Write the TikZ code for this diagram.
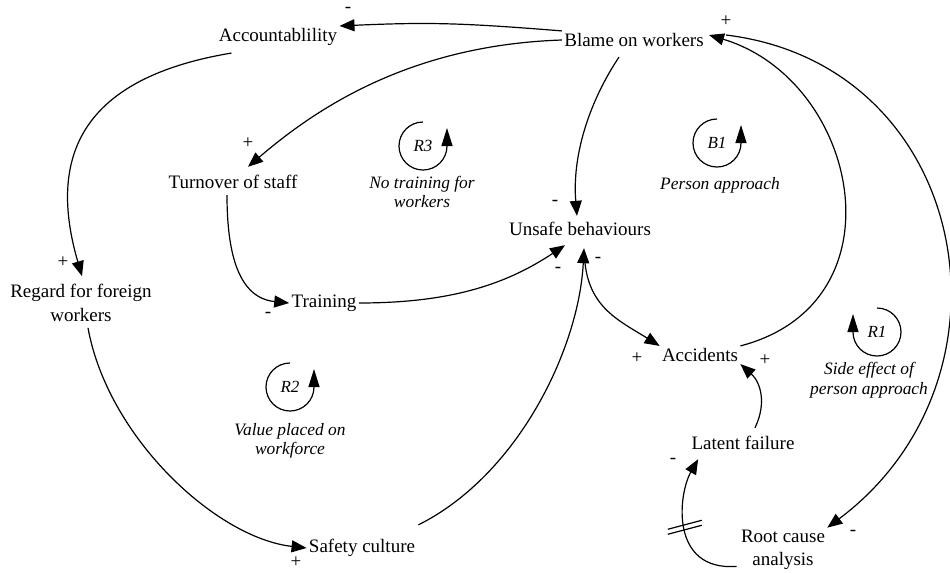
\documentclass[tikz,border=0pt]{standalone}
\usepackage{fontspec}
\setmainfont{Liberation Serif}
\usetikzlibrary{arrows.meta,calc}

\tikzset{
  var/.style={inner sep=1pt, align=center, font=\fontsize{9.5}{11.7}\selectfont},
  pol/.style={inner sep=0pt, font=\fontsize{9.5}{11}\selectfont},
  link/.style={line width=.6pt, -{Triangle[length=7.5pt,width=6pt]}},
  loopid/.style={inner sep=0pt, font=\fontsize{8.5}{10}\selectfont\itshape},
  looptxt/.style={inner sep=0pt, align=center, font=\fontsize{8.7}{9.8}\selectfont\itshape},
  looparc/.style={line width=.6pt, -{Triangle[length=9pt,width=5.5pt]}},
}

\begin{document}
\begin{tikzpicture}[x=0.5pt, y=-0.5pt]
  \useasboundingbox (0,0) rectangle (950,574);
  % variables
  \node[var] (acc) at (278,37) {Accountablility};
  \node[var] (blame) at (634,40) {Blame on workers};
  \node[var] (turn) at (233,182) {Turnover of staff};
  \node[var] (unsafe) at (580,229) {Unsafe behaviours};
  \node[var] (regard) at (81,303) {Regard for foreign\\workers};
  \node[var] (train) at (324,303) {Training};
  \node[var] (accid) at (700,355) {Accidents};
  \node[var] (latent) at (743,443) {Latent failure};
  \node[var] (root) at (783,550) {Root cause\\analysis};
  \node[var] (safety) at (362,548) {Safety culture};

  % loop markers
  \node[loopid] (r3) at (423,146) {R3};
  \node[loopid] (b1) at (717,143) {B1};
  \node[loopid] (r2) at (290,387) {R2};
  \node[loopid] (r1) at (877,332) {R1};
  \node[looptxt] (r3txt) at (422,192) {No training for\\workers};
  \node[looptxt] (b1txt) at (720,185) {Person approach};
  \node[looptxt] (r2txt) at (290,441) {Value placed on\\workforce};
  \node[looptxt] (r1txt) at (869,380) {Side effect of\\person approach};
  \draw[looparc] ([yshift=12pt]r3.center) arc[start angle=90, end angle=360, radius=12pt] -- ++(0pt,9pt);
  \draw[looparc] ([yshift=12pt]b1.center) arc[start angle=90, end angle=360, radius=12pt] -- ++(0pt,9pt);
  \draw[looparc] ([yshift=12pt]r2.center) arc[start angle=90, end angle=360, radius=12pt] -- ++(0pt,9pt);
  \draw[looparc] ([yshift=12pt]r1.center) arc[start angle=90, end angle=-180, radius=12pt] -- ++(0pt,9pt);

  % links
  \draw[link] (blame.north west) .. controls +(-100,-8) and +(90,-4) .. (acc.north east);
  \draw[link] (blame.west) .. controls +(-150,5) and +(70,-60) .. ($(turn.north)+(15,-6)$);
  \draw[link] ($(blame.south)+(-15,8)$) .. controls +(-30,45) and +(-5,-60) .. ($(unsafe.north)+(-3,-4)$);
  \draw[link] ($(acc.south west)+(15,5)$) .. controls +(-150,25) and +(-35,-120) .. ($(regard.north)+(1,-6)$);
  \draw[link] ($(turn.south)+(-6,4)$) .. controls +(0,60) and +(-50,-5) .. (train.west);
  \draw[link] (train.east) .. controls +(90,0) and +(-60,40) .. ($(unsafe.south)+(-15,7)$);
  \draw[link] ($(regard.south)+(7,4)$) .. controls +(20,110) and +(-90,-10) .. (safety.west);
  \draw[link] ($(safety.north east)+(1,-12)$) .. controls +(100,-50) and +(-5,100) .. ($(unsafe.south)+(4,10)$);
  \draw[link] ($(unsafe.south)+(5,25)$) .. controls +(5,45) and +(-40,-25) .. (accid.north west);
  \draw[link] ($(latent.north)+(12,-6)$) .. controls +(12,-25) and +(20,18) .. (accid.south east);
  \draw[link] (accid.north east) .. controls +(165,-43) and +(150,45) .. ($(blame.east)+(3,-5)$);
  \draw[link] ($(blame.east)+(20,-5)$) .. controls +(245,30) and +(200,-150) .. (root.north east);
  \draw[link] ($(root.south west)+(-2,-6)$) .. controls +(-67,5) and +(-20,35) .. ($(latent.south west)+(9,7)$)
    coordinate[pos=.5] (dly);
  \draw[line width=.6pt] ($(dly)+(-17,6.5)$) -- ($(dly)+(17,-2.5)$);
  \draw[line width=.6pt] ($(dly)+(-17,1.5)$) -- ($(dly)+(17,-7.5)$);

  % polarities
  \node[pol] (pacc) at (348,10) {-};
  \node[pol] (pturn) at (248,143) {+};
  \node[pol] (punsafe1) at (555,203) {-};
  \node[pol] (pregard) at (63,262) {+};
  \node[pol] (ptrain) at (268,315) {-};
  \node[pol] (punsafe2) at (558,270) {-};
  \node[pol] (punsafe3) at (598,260) {-};
  \node[pol] (paccid1) at (637,358) {+};
  \node[pol] (paccid2) at (765,360) {+};
  \node[pol] (platent) at (673,461) {-};
  \node[pol] (proot) at (853,533) {-};
  \node[pol] (pblame) at (726,21) {+};
  \node[pol] (psafety) at (296,562) {+};
\end{tikzpicture}
\end{document}
